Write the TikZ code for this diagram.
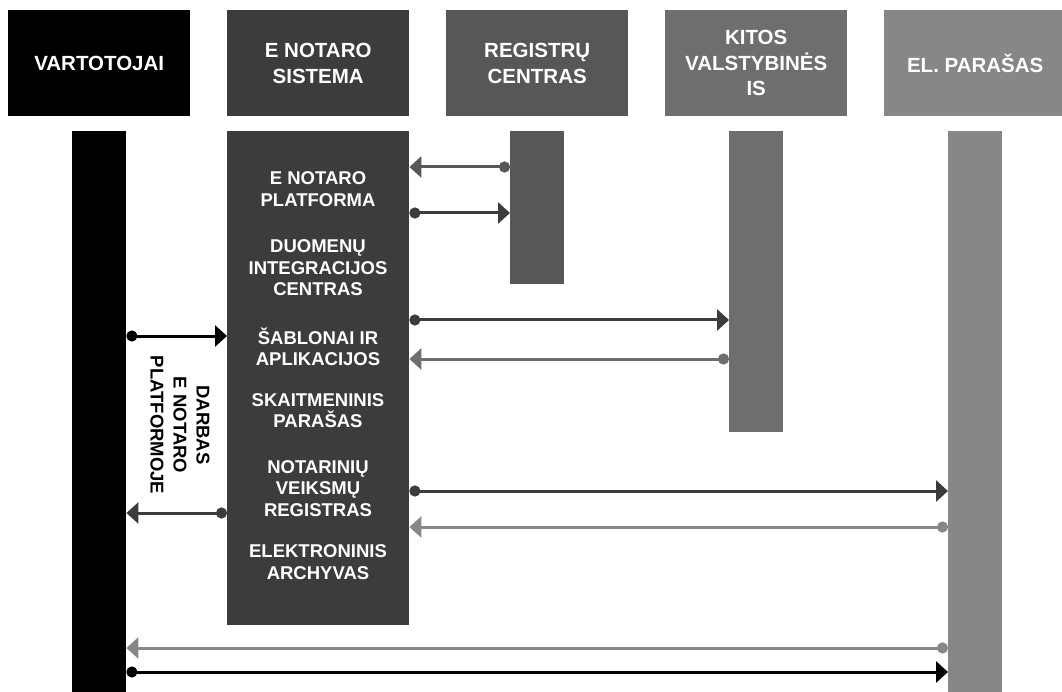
\documentclass[tikz,border=0pt]{standalone}
\usepackage{fontspec}
\setmainfont{Liberation Sans}
\usetikzlibrary{arrows.meta}
\definecolor{cUser}{HTML}{000000}
\definecolor{cSys}{HTML}{3C3C3A}
\definecolor{cReg}{HTML}{575755}
\definecolor{cOth}{HTML}{6E6E6E}
\definecolor{cSig}{HTML}{878787}
\tikzset{
  hdr/.style={fill=#1, text=white, minimum width=182pt, minimum height=106pt,
    inner sep=0pt, align=center, anchor=north west,
    font=\bfseries\fontsize{20.5}{25.5}\selectfont},
  lifebar/.style={fill=#1, inner sep=0pt, anchor=north west, minimum width=54pt},
  lbl/.style={text=white, align=center, inner sep=0pt,
    font=\bfseries\fontsize{18.5}{21.5}\selectfont},
  msg/.style={draw=#1, line width=3pt,
    {Circle[length=11pt,width=11pt,fill=#1]}-{Triangle[length=12pt,width=21pt,fill=#1]}}
}
\begin{document}
\begin{tikzpicture}[x=1pt,y=-1pt]
\useasboundingbox (0,0) rectangle (1062,692);
% headers
\node[hdr=cUser] (h1) at (8,10) {VARTOTOJAI};
\node[hdr=cSys]  (h2) at (227,10) {E NOTARO\\SISTEMA};
\node[hdr=cReg]  (h3) at (446,10) {REGISTRŲ\\CENTRAS};
\node[hdr=cOth]  (h4) at (665,10) {KITOS\\VALSTYBINĖS\\IS};
\node[hdr=cSig]  (h5) at (884,10) {EL. PARAŠAS};
% lifelines
\node[lifebar=cUser, minimum height=561pt] (uBar) at (72,131) {};
\node[lifebar=cSys, minimum width=182pt, minimum height=494pt] (sBar) at (227,131) {};
\node[lifebar=cReg, minimum height=153pt] (rBar) at (510,131) {};
\node[lifebar=cOth, minimum height=301pt] (oBar) at (729,131) {};
\node[lifebar=cSig, minimum height=561pt] (gBar) at (948,131) {};
% labels inside system
\node[lbl] (l1) at (318,189) {E NOTARO\\PLATFORMA};
\node[lbl] (l2) at (318,268) {DUOMENŲ\\INTEGRACIJOS\\CENTRAS};
\node[lbl] (l3) at (318,347) {ŠABLONAI IR\\APLIKACIJOS};
\node[lbl] (l4) at (318,410.5) {SKAITMENINIS\\PARAŠAS};
\node[lbl] (l5) at (318,488.5) {NOTARINIŲ\\VEIKSMŲ\\REGISTRAS};
\node[lbl] (l6) at (318,562) {ELEKTRONINIS\\ARCHYVAS};
% rotated label
\node[lbl, text=black, rotate=-90, font=\bfseries\fontsize{18.5}{23}\selectfont] (work) at (180,425) {DARBAS\\E NOTARO\\PLATFORMOJE};
% messages
\draw[msg=cReg] (rBar.west |- 0,167) -- (sBar.east |- 0,167);
\draw[msg=cSys] (sBar.east |- 0,213) -- (rBar.west |- 0,213);
\draw[msg=cSys] (sBar.east |- 0,320) -- (oBar.west |- 0,320);
\draw[msg=cOth] (oBar.west |- 0,359) -- (sBar.east |- 0,359);
\draw[msg=cSys] (sBar.east |- 0,491) -- (gBar.west |- 0,491);
\draw[msg=cSig] (gBar.west |- 0,527) -- (sBar.east |- 0,527);
\draw[msg=cSig] (gBar.west |- 0,648) -- (uBar.east |- 0,648);
\draw[msg=cUser] (uBar.east |- 0,672) -- (gBar.west |- 0,672);
\draw[msg=cUser] (uBar.east |- 0,336) -- (sBar.west |- 0,336);
\draw[msg=cSys] (sBar.west |- 0,513) -- (uBar.east |- 0,513);
\end{tikzpicture}
\end{document}
